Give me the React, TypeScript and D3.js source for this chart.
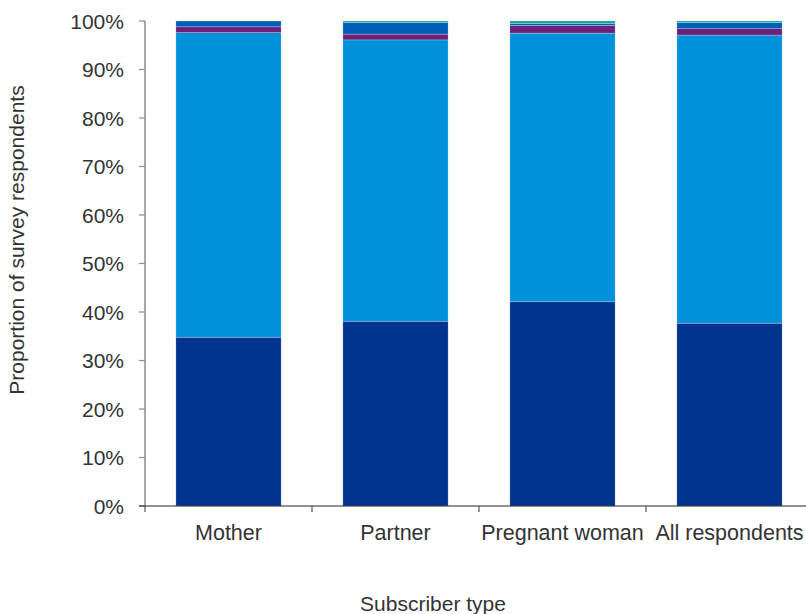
import React from "react";
import * as d3 from "d3";

const categories = ["Mother", "Partner", "Pregnant woman", "All respondents"];
const seriesNames = ["s1", "s2", "s3", "s4", "s5"];
const seriesColors = ["#00338D", "#0091DA", "#6D2077", "#005EB8", "#00A3A1"];
const s1 = [34.8, 38.1, 42.1, 37.7];
const s2 = [62.8, 58.0, 55.4, 59.4];
const s3 = [1.2, 1.2, 1.6, 1.3];
const s4 = [1.2, 2.4, 0.4, 1.3];
const s5 = [0.0, 0.3, 0.5, 0.3];
const yTicks = [0, 10, 20, 30, 40, 50, 60, 70, 80, 90, 100];
const xTitle = "Subscriber type";
const yTitle = "Proportion of survey respondents";

export default function App() {
  const W = 806, H = 614;
  const left = 145, top = 21, bottom = 506;
  const step = 167;
  const x = d3.scaleBand<string>().domain(categories).range([left, left + step * categories.length]).paddingInner(0.37).paddingOuter(0.185);
  const y = d3.scaleLinear().domain([0, 100]).range([bottom, top]);
  const rows = categories.map((c, i) => ({ cat: c, s1: s1[i], s2: s2[i], s3: s3[i], s4: s4[i], s5: s5[i] }));
  const stack = d3.stack<any>().keys(seriesNames)(rows);
  const font = "'Liberation Sans', Arial, sans-serif";
  return (
    <svg width={W} height={H} style={{ position: "absolute", left: 0, top: 0 }} fontFamily={font}>
      <rect width={W} height={H} fill="#fff" />
      {stack.map((layer, si) => (
        <g key={si} fill={seriesColors[si]}>
          {layer.map((d, i) => {
            const h = y(d[0]) - y(d[1]);
            if (h <= 0) return null;
            return (
              <rect key={i} x={x(categories[i])} width={x.bandwidth()} y={y(d[1])} height={h}
                stroke="#ffffff" strokeOpacity={0.5} strokeWidth={0.5} />
            );
          })}
        </g>
      ))}
      <line x1={left} x2={left} y1={top} y2={bottom} stroke="#8c8c8c" strokeWidth={1.5} />
      {yTicks.map((t) => (
        <g key={t}>
          <line x1={left - 6} x2={left} y1={y(t)} y2={y(t)} stroke="#8c8c8c" strokeWidth={1.2} />
          <text x={124} y={y(t)} dy="0.36em" textAnchor="end" fontSize={21} fill="#333">{t}%</text>
        </g>
      ))}
      <line x1={left - 6} x2={W} y1={bottom} y2={bottom} stroke="#222" strokeWidth={1.2} />
      {d3.range(categories.length).map((i) => (
        <line key={i} x1={left + i * step} x2={left + i * step} y1={bottom} y2={bottom + 6} stroke="#555" strokeWidth={1.2} />
      ))}
      {categories.map((c) => (
        <text key={c} x={(x(c) as number) + x.bandwidth() / 2} y={540} textAnchor="middle" fontSize={21.5} fill="#333">{c}</text>
      ))}
      <text x={433} y={611} textAnchor="middle" fontSize={21} fill="#333">{xTitle}</text>
      <text transform={`translate(24,240) rotate(-90)`} textAnchor="middle" fontSize={21} fill="#333">{yTitle}</text>
    </svg>
  );
}
